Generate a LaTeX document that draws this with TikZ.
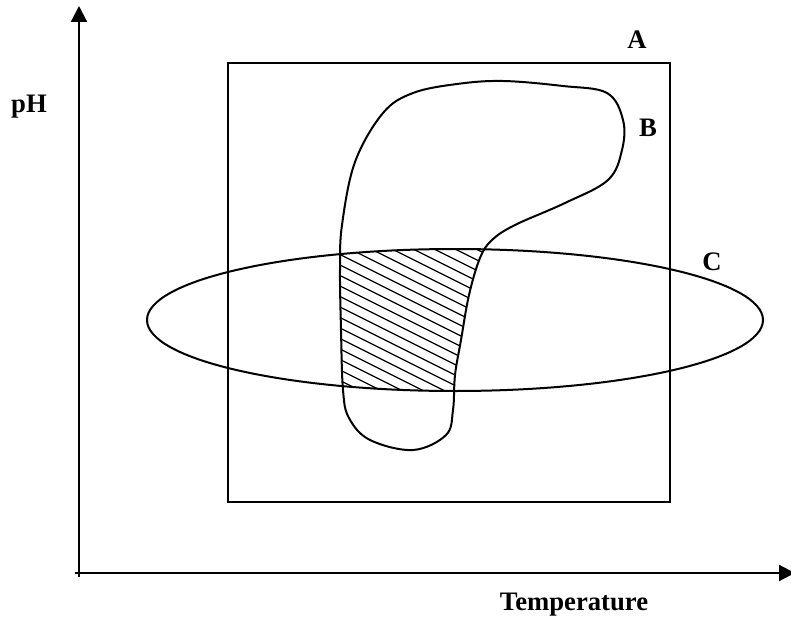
\documentclass[tikz,border=0pt]{standalone}
\usepackage{fontspec}
\setmainfont{Liberation Serif}
\usetikzlibrary{arrows.meta}
\begin{document}
\begin{tikzpicture}[x=0.75pt,y=-0.75pt,
  curve/.style={line width=1.5pt,line join=round},
  axis/.style={line width=1.6pt,-{Triangle[length=12pt,width=12pt]}},
  lbl/.style={font=\fontsize{20}{24}\selectfont\bfseries,inner sep=0pt},
  hatch/.style={line width=0.9pt}]
\useasboundingbox (0,0) rectangle (791,620);
% axes
\coordinate (o) at (79,577);
\coordinate (ytip) at (79,6);
\coordinate (xs) at (75,573);
\coordinate (xtip) at (795,573);
\draw[axis] (o) -- (ytip);
\draw[axis] (xs) -- (xtip);
% region A
\node[draw,line width=1.5pt,minimum width=442*0.75pt,minimum height=439*0.75pt,inner sep=0pt,anchor=north west] (A) at (227,62) {};
% hatching: intersection of B and C
\begin{scope}
  \clip (455,320) ellipse [x radius=308, y radius=71];
  \clip plot[smooth cycle,tension=0.6] coordinates {(503,81) (563,86) (607,93) (623,120) (622,150) (608,180) (565,203) (515,225) (492,240) (480,258) (469,295) (461,340) (455,375) (453,410) (446,435) (413,450) (370,440) (349,418) (343,390) (341,330) (340,270) (342,225) (355,162) (383,113) (413,93) (457,84)};
  \foreach \k in {0,...,32} {
    \draw[hatch] (320,{150+\k*10.5}) -- ++(200,100);
  }
\end{scope}
% region B
\draw[curve] plot[smooth cycle,tension=0.6] coordinates {(503,81) (563,86) (607,93) (623,120) (622,150) (608,180) (565,203) (515,225) (492,240) (480,258) (469,295) (461,340) (455,375) (453,410) (446,435) (413,450) (370,440) (349,418) (343,390) (341,330) (340,270) (342,225) (355,162) (383,113) (413,93) (457,84)};
% region C
\draw[curve] (455,320) ellipse [x radius=308, y radius=71];
% labels
\node[lbl] (la) at (637,40) {A};
\node[lbl] (lb) at (648,128) {B};
\node[lbl] (lc) at (712,262) {C};
\node[lbl,anchor=base] (lph) at (29,113) {pH};
\node[lbl,anchor=base] (lt) at (574,610) {Temperature};
\end{tikzpicture}
\end{document}
